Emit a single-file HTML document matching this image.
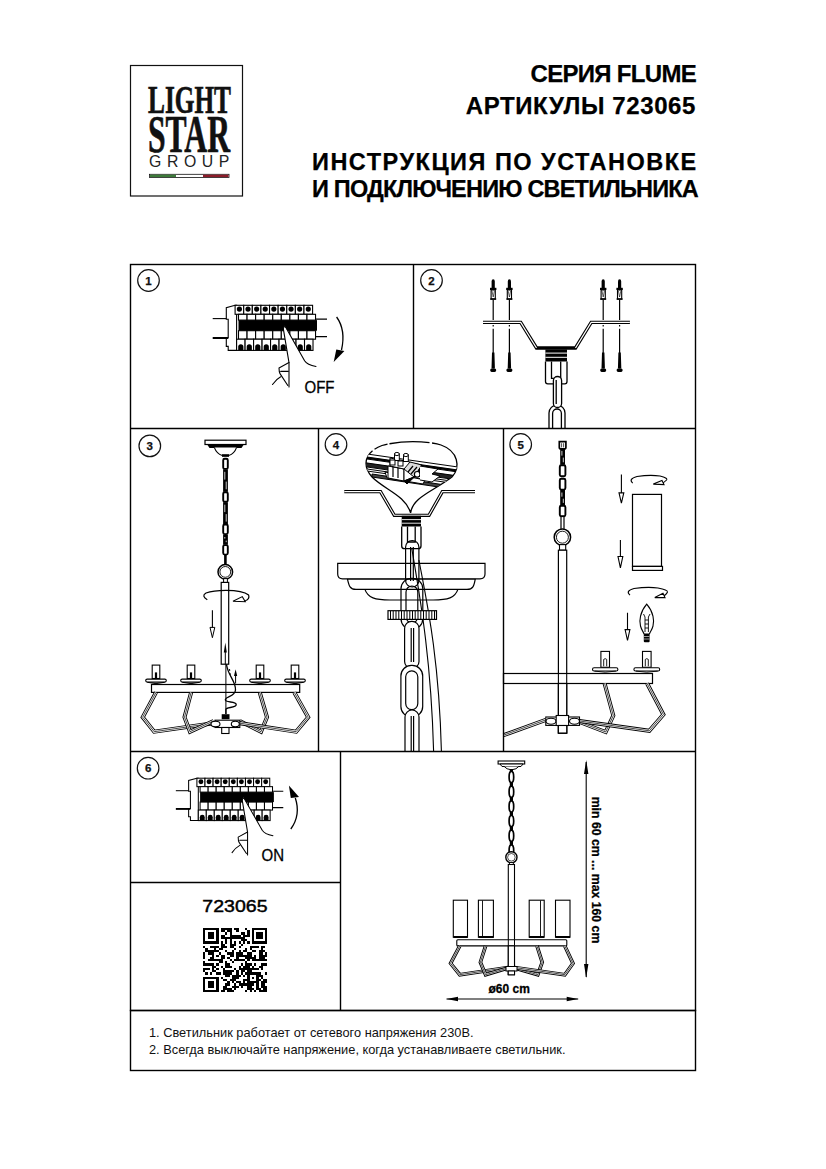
<!DOCTYPE html>
<html><head><meta charset="utf-8">
<style>
html,body{margin:0;padding:0;background:#fff;}
body{width:826px;height:1169px;position:relative;overflow:hidden;font-family:"Liberation Sans",sans-serif;}
svg{position:absolute;left:0;top:0;}
.t{position:absolute;white-space:nowrap;color:#000;-webkit-text-stroke:0.25px #000;}
</style></head><body>
<svg width="826" height="1169" viewBox="0 0 826 1169">
<!-- logo box -->
<rect x="130.5" y="65.5" width="112" height="130.5" fill="none" stroke="#111" stroke-width="1.2"/>
<defs><symbol id="brk" overflow="visible">
<g fill="#fff" stroke="#000" stroke-width="1.1">
<path d="M0,0 L-8.8,2.4 V13.9 H-6.9 V32.3 H-8.8 V41.1 H-6.9 V45.1 H1.5 V0 Z"/>
<rect x="0.00" y="0" width="8.61" height="9"/>
<rect x="8.61" y="0" width="8.61" height="9"/>
<rect x="17.22" y="0" width="8.61" height="9"/>
<rect x="25.83" y="0" width="8.61" height="9"/>
<rect x="34.44" y="0" width="8.61" height="9"/>
<rect x="43.05" y="0" width="8.61" height="9"/>
<rect x="51.66" y="0" width="8.61" height="9"/>
<rect x="60.27" y="0" width="8.61" height="9"/>
<rect x="68.88" y="0" width="8.61" height="9"/>
<rect x="3.40" y="9" width="8.56" height="5.8"/>
<rect x="11.96" y="9" width="8.56" height="5.8"/>
<rect x="20.52" y="9" width="8.56" height="5.8"/>
<rect x="29.08" y="9" width="8.56" height="5.8"/>
<rect x="37.64" y="9" width="8.56" height="5.8"/>
<rect x="46.20" y="9" width="8.56" height="5.8"/>
<rect x="54.76" y="9" width="8.56" height="5.8"/>
<rect x="63.32" y="9" width="8.56" height="5.8"/>
<rect x="71.88" y="9" width="8.56" height="5.8"/>
<rect x="3.40" y="25.4" width="8.56" height="8.5"/>
<rect x="11.96" y="25.4" width="8.56" height="8.5"/>
<rect x="20.52" y="25.4" width="8.56" height="8.5"/>
<rect x="29.08" y="25.4" width="8.56" height="8.5"/>
<rect x="37.64" y="25.4" width="8.56" height="8.5"/>
<rect x="46.20" y="25.4" width="8.56" height="8.5"/>
<rect x="54.76" y="25.4" width="8.56" height="8.5"/>
<rect x="63.32" y="25.4" width="8.56" height="8.5"/>
<rect x="71.88" y="25.4" width="8.56" height="8.5"/>
<rect x="1.50" y="33.9" width="8.49" height="11.2"/>
<rect x="9.99" y="33.9" width="8.49" height="11.2"/>
<rect x="18.48" y="33.9" width="8.49" height="11.2"/>
<rect x="26.97" y="33.9" width="8.49" height="11.2"/>
<rect x="35.46" y="33.9" width="8.49" height="11.2"/>
<rect x="43.95" y="33.9" width="8.49" height="11.2"/>
<rect x="52.44" y="33.9" width="8.49" height="11.2"/>
<rect x="60.93" y="33.9" width="8.49" height="11.2"/>
<rect x="69.42" y="33.9" width="8.49" height="11.2"/>
</g>
<g fill="#000"><circle cx="4.30" cy="3.8" r="2.6"/>
<circle cx="12.91" cy="3.8" r="2.6"/>
<circle cx="21.52" cy="3.8" r="2.6"/>
<circle cx="30.13" cy="3.8" r="2.6"/>
<circle cx="38.74" cy="3.8" r="2.6"/>
<circle cx="47.35" cy="3.8" r="2.6"/>
<circle cx="55.96" cy="3.8" r="2.6"/>
<circle cx="64.57" cy="3.8" r="2.6"/>
<circle cx="73.18" cy="3.8" r="2.6"/>
<path d="M3.10,45 V41.5 a2.6,2.6 0 0 1 5.2,0 V45 Z"/>
<path d="M11.59,45 V41.5 a2.6,2.6 0 0 1 5.2,0 V45 Z"/>
<path d="M20.08,45 V41.5 a2.6,2.6 0 0 1 5.2,0 V45 Z"/>
<path d="M28.57,45 V41.5 a2.6,2.6 0 0 1 5.2,0 V45 Z"/>
<path d="M37.06,45 V41.5 a2.6,2.6 0 0 1 5.2,0 V45 Z"/>
<path d="M45.55,45 V41.5 a2.6,2.6 0 0 1 5.2,0 V45 Z"/>
<path d="M54.04,45 V41.5 a2.6,2.6 0 0 1 5.2,0 V45 Z"/>
<path d="M62.53,45 V41.5 a2.6,2.6 0 0 1 5.2,0 V45 Z"/>
<path d="M71.02,45 V41.5 a2.6,2.6 0 0 1 5.2,0 V45 Z"/>
<rect x="3.4" y="14.8" width="78.5" height="10.6"/>
</g>
<g stroke="#000" fill="none">
<path d="M-22.4,13.3 H-8.8" stroke-width="1.1"/>
<path d="M-22.4,32.7 H-6.9" stroke-width="2"/>
<path d="M80.4,13.9 H91.9 M80.4,31.3 H91.9" stroke-width="1.2"/>
</g>
<path d="M49.2,20.5 L50.1,21.5 L69.5,55.4 L53.9,57.3 L48.2,23.4 Z" fill="#fff"/>
<g fill="none" stroke="#000" stroke-width="1.1" stroke-linecap="round" stroke-linejoin="round">
<path d="M48.2,23.4 Q49,20 50.6,22 L69.5,55.4 Q72,59.5 80.9,61.2"/>
<path d="M48.2,23.4 L53.9,57.3 V81.6"/>
<path d="M53.9,57.3 L43.9,62.7 Q44,67 44.9,68.3 L52.7,80.2"/>
<path d="M45.6,66.1 H53.2 M45.6,71.5 Q41,74 37.4,79.2"/>
</g>
</symbol>
</defs>
<!-- logo -->
<g font-family="Liberation Serif" font-weight="bold" fill="#111" stroke="#111" stroke-width="0.7">
<text id="lg1" x="148" y="113.4" font-size="41" textLength="83" lengthAdjust="spacingAndGlyphs">LIGHT</text>
<text id="lg2" x="148" y="151.5" font-size="53" textLength="82" lengthAdjust="spacingAndGlyphs">STAR</text>
</g>
<text id="lg3" x="149" y="167.3" font-family="Liberation Sans" font-size="17" fill="#222" textLength="86" lengthAdjust="spacingAndGlyphs" style="letter-spacing:6px">GROUP</text>
<rect x="149.5" y="174.3" width="79.5" height="3.2" fill="#fff" stroke="#111" stroke-width="0.8"/>
<rect x="150" y="174.7" width="26" height="2.4" fill="#3d7a3a"/>
<rect x="203" y="174.7" width="25.5" height="2.4" fill="#8b1c2a"/>
<!-- panel1 -->
<use href="#brk" x="0" y="0" transform="translate(235.1,305.3)"/>
<path d="M336.6,317 Q346,330 341.5,350" fill="none" stroke="#000" stroke-width="1.3"/>
<path d="M336.3,349.5 L344.4,351 L333.7,362 Z" fill="#000"/>
<text x="304.5" y="392.6" font-family="Liberation Sans" font-size="16.5" textLength="30" lengthAdjust="spacingAndGlyphs" fill="#000" stroke="#000" stroke-width="0.3">OFF</text>
<!-- panel6 -->
<use href="#brk" transform="translate(196.9,778.2) scale(0.94)"/>
<path d="M290.8,829 Q301,815 295.3,798" fill="none" stroke="#000" stroke-width="1.3"/>
<path d="M290.8,798 L299,797 L288.9,785.4 Z" fill="#000"/>
<text x="261.5" y="861" font-family="Liberation Sans" font-size="16.2" textLength="22.5" lengthAdjust="spacingAndGlyphs" fill="#000" stroke="#000" stroke-width="0.3">ON</text>
<!-- panel2 -->
<g>
<path d="M491.59999999999997,288 V281.5 Q491.59999999999997,279.2 493.2,279.2 Q494.8,279.2 494.8,281.5 V288 Z" fill="#000"/>
<rect x="490.0" y="287.8" width="6.4" height="2.2" fill="#000"/>
<rect x="491.09999999999997" y="290" width="4.2" height="9" fill="#fff" stroke="#000" stroke-width="1.1"/>
<path d="M492.0,291 L493.2,297 L494.4,291" fill="none" stroke="#000" stroke-width="0.6"/>
<rect x="490.2" y="298.3" width="6" height="1.5" fill="#000"/>
<path d="M493.2,299.5 V320 M493.2,325 V326.5 M493.2,328.8 V353" stroke="#000" stroke-width="1.2"/>
<path d="M492.0,352.5 L494.4,352.5 L494.9,368.5 L491.5,368.5 Z" fill="#000"/>
<ellipse cx="493.2" cy="370.2" rx="3" ry="1.9" fill="#000"/>
</g>
<g>
<path d="M507.79999999999995,288 V281.5 Q507.79999999999995,279.2 509.4,279.2 Q511.0,279.2 511.0,281.5 V288 Z" fill="#000"/>
<rect x="506.2" y="287.8" width="6.4" height="2.2" fill="#000"/>
<rect x="507.29999999999995" y="290" width="4.2" height="9" fill="#fff" stroke="#000" stroke-width="1.1"/>
<path d="M508.2,291 L509.4,297 L510.59999999999997,291" fill="none" stroke="#000" stroke-width="0.6"/>
<rect x="506.4" y="298.3" width="6" height="1.5" fill="#000"/>
<path d="M509.4,299.5 V320 M509.4,325 V326.5 M509.4,328.8 V353" stroke="#000" stroke-width="1.2"/>
<path d="M508.2,352.5 L510.6,352.5 L511.1,368.5 L507.7,368.5 Z" fill="#000"/>
<ellipse cx="509.4" cy="370.2" rx="3" ry="1.9" fill="#000"/>
</g>
<g>
<path d="M601.6,288 V281.5 Q601.6,279.2 603.2,279.2 Q604.8000000000001,279.2 604.8000000000001,281.5 V288 Z" fill="#000"/>
<rect x="600.0" y="287.8" width="6.4" height="2.2" fill="#000"/>
<rect x="601.1" y="290" width="4.2" height="9" fill="#fff" stroke="#000" stroke-width="1.1"/>
<path d="M602.0,291 L603.2,297 L604.4000000000001,291" fill="none" stroke="#000" stroke-width="0.6"/>
<rect x="600.2" y="298.3" width="6" height="1.5" fill="#000"/>
<path d="M603.2,299.5 V320 M603.2,325 V326.5 M603.2,328.8 V353" stroke="#000" stroke-width="1.2"/>
<path d="M602.0,352.5 L604.4,352.5 L604.9,368.5 L601.5,368.5 Z" fill="#000"/>
<ellipse cx="603.2" cy="370.2" rx="3" ry="1.9" fill="#000"/>
</g>
<g>
<path d="M618.0,288 V281.5 Q618.0,279.2 619.6,279.2 Q621.2,279.2 621.2,281.5 V288 Z" fill="#000"/>
<rect x="616.4" y="287.8" width="6.4" height="2.2" fill="#000"/>
<rect x="617.5" y="290" width="4.2" height="9" fill="#fff" stroke="#000" stroke-width="1.1"/>
<path d="M618.4,291 L619.6,297 L620.8000000000001,291" fill="none" stroke="#000" stroke-width="0.6"/>
<rect x="616.6" y="298.3" width="6" height="1.5" fill="#000"/>
<path d="M619.6,299.5 V320 M619.6,325 V326.5 M619.6,328.8 V353" stroke="#000" stroke-width="1.2"/>
<path d="M618.4,352.5 L620.8,352.5 L621.3,368.5 L617.9,368.5 Z" fill="#000"/>
<ellipse cx="619.6" cy="370.2" rx="3" ry="1.9" fill="#000"/>
</g>
<path d="M483,322.4 H520.7 L536.5,348 H575.5 L591.2,322.4 H629.9" fill="none" stroke="#000" stroke-width="3.4" stroke-linejoin="miter"/>
<path d="M483,322.4 H520.7 L536.5,348 M575.5,348 L591.2,322.4 H629.9" fill="none" stroke="#fff" stroke-width="1.2" stroke-linejoin="miter"/>
<g fill="none" stroke="#000" stroke-width="1.3">
<path d="M545.5,361.5 V381.5 Q545.5,383.8 547.8,383.8 H564.8 Q567,383.8 567,381.5 V361.5"/>
<path d="M551.5,361.5 V378.4 H560.7 V361.5"/>
<path d="M549,428 V413 A8,8 0 0 1 565,413 V428" fill="#fff"/>
<path d="M552.6,428 V413.4 A4.4,4.4 0 0 1 561.4,413.4 V428"/>
<rect x="553.4" y="376.5" width="8.2" height="31" rx="4.1" fill="#fff"/>
<path d="M556.2,380 V404"/>
</g>
<rect x="545.4" y="349.5" width="21.6" height="12" fill="#000"/>
<path d="M545.4,353.1 H567 M545.4,357.3 H567" stroke="#fff" stroke-width="1"/>
<!-- panel3 -->
<g>
<rect x="205" y="440.2" width="41" height="4.3" fill="#fff" stroke="#000" stroke-width="1.2"/>
<path d="M207,444.3 H244 L241.5,448 H209.5 Z" fill="#000"/>
<path d="M214.4,447.6 Q216.5,453.5 222.3,455.6 H228.7 Q234.5,453.5 236.5,447.6" fill="#fff" stroke="#000" stroke-width="1.1"/>
<rect x="222" y="454.2" width="7" height="2.6" fill="#000"/>
<rect x="223.1" y="469.3" width="4.8" height="22.5" fill="#000"/>
<path d="M224.8,471.8 V479.6 M226.2,481.6 V489.3" stroke="#fff" stroke-width="0.8"/>
<rect x="223.1" y="502.2" width="4.8" height="21.9" fill="#000"/>
<path d="M224.8,504.7 V512.1 M226.2,514.1 V521.6" stroke="#fff" stroke-width="0.8"/>
<rect x="223.1" y="534.5" width="4.8" height="10.2" fill="#000"/>
<path d="M224.8,537.0 V538.6 M226.2,540.6 V542.2" stroke="#fff" stroke-width="0.8"/>
<rect x="223.2" y="458.7" width="4.6" height="10.2" rx="1.5" fill="#fff" stroke="#000" stroke-width="1.9"/>
<rect x="223.2" y="492.2" width="4.6" height="9.6" rx="1.5" fill="#fff" stroke="#000" stroke-width="1.9"/>
<rect x="223.2" y="524.5" width="4.6" height="9.6" rx="1.5" fill="#fff" stroke="#000" stroke-width="1.9"/>
<rect x="223.2" y="545.1" width="4.6" height="9.5" rx="1.5" fill="#fff" stroke="#000" stroke-width="1.9"/>
<path d="M225.4,555 V565" stroke="#000" stroke-width="2.6"/>
<circle cx="225.3" cy="571.9" r="7.3" fill="#fff" stroke="#000" stroke-width="1.5"/>
<circle cx="225.3" cy="571.9" r="5.4" fill="#fff" stroke="#000" stroke-width="0.9"/>
<rect x="223.6" y="578.6" width="3.8" height="4" fill="#fff" stroke="#000" stroke-width="1"/>
<rect x="221.2" y="582.4" width="7.5" height="81.8" fill="#fff" stroke="#000" stroke-width="1.2"/>
<path d="M207.3,599.7 Q201,596 206,593 Q213,590.3 226,590.3 Q243,590.3 248.6,595 Q250,599 245.2,600.8" fill="none" stroke="#000" stroke-width="1.2"/>
<path d="M233,601.3 L242.3,596.6 L245.3,601.7 Z" fill="#fff" stroke="#000" stroke-width="1.1"/>
<path d="M212.4,610.3 V627.4" stroke="#000" stroke-width="1.1"/>
<path d="M210,627.4 H214.8 L212.4,637.7 Z" fill="#fff" stroke="#000" stroke-width="1"/>
<path d="M225.3,664 V650" stroke="#000" stroke-width="1"/>
<path d="M223.8,652.5 H226.8 L225.3,642.4 Z" fill="#000"/>
<path d="M235.6,683.5 V674" stroke="#000" stroke-width="1"/>
<path d="M234,676 H237.2 L235.6,669.3 Z" fill="#000"/>
<path d="M229.5,669 L230.5,677" stroke="#000" stroke-width="1" stroke-dasharray="2,2"/>
<rect x="152.2" y="665.1" width="7.6" height="13.399999999999977" fill="#fff" stroke="#000" stroke-width="1.1"/>
<rect x="154.9" y="672.4" width="2.2" height="5.599999999999977" fill="#000"/>
<rect x="145.7" y="679.1" width="20.6" height="3" rx="1.5" fill="#fff" stroke="#000" stroke-width="1.1"/>
<path d="M147.5,682.3 Q156,685.0 164.5,682.3" fill="none" stroke="#000" stroke-width="1"/><rect x="187.2" y="665.1" width="7.6" height="13.399999999999977" fill="#fff" stroke="#000" stroke-width="1.1"/>
<rect x="189.9" y="672.4" width="2.2" height="5.599999999999977" fill="#000"/>
<rect x="180.7" y="679.1" width="20.6" height="3" rx="1.5" fill="#fff" stroke="#000" stroke-width="1.1"/>
<path d="M182.5,682.3 Q191,685.0 199.5,682.3" fill="none" stroke="#000" stroke-width="1"/><rect x="256.2" y="665.1" width="7.6" height="13.399999999999977" fill="#fff" stroke="#000" stroke-width="1.1"/>
<rect x="258.9" y="672.4" width="2.2" height="5.599999999999977" fill="#000"/>
<rect x="249.7" y="679.1" width="20.6" height="3" rx="1.5" fill="#fff" stroke="#000" stroke-width="1.1"/>
<path d="M251.5,682.3 Q260,685.0 268.5,682.3" fill="none" stroke="#000" stroke-width="1"/><rect x="291.2" y="665.1" width="7.6" height="13.399999999999977" fill="#fff" stroke="#000" stroke-width="1.1"/>
<rect x="293.9" y="672.4" width="2.2" height="5.599999999999977" fill="#000"/>
<rect x="284.7" y="679.1" width="20.6" height="3" rx="1.5" fill="#fff" stroke="#000" stroke-width="1.1"/>
<path d="M286.5,682.3 Q295,685.0 303.5,682.3" fill="none" stroke="#000" stroke-width="1"/>
<rect x="151.5" y="684.5" width="148.2" height="7.9" fill="#fff" stroke="#000" stroke-width="1.2"/>
<path d="M156,692.4 L142.7,717.2 L154.2,731.7 L213.5,723.2" fill="none" stroke="#000" stroke-width="4.0" stroke-linejoin="miter"/><path d="M156,692.4 L142.7,717.2 L154.2,731.7 L213.5,723.2" fill="none" stroke="#fff" stroke-width="2.2" stroke-linejoin="miter"/><path d="M156,692.4 L142.7,717.2 L154.2,731.7 L213.5,723.2" fill="none" stroke="#000" stroke-width="0.7" stroke-linejoin="miter"/><path d="M191.1,692.6 L184.5,717.2 L190,731.7 L213.5,721" fill="none" stroke="#000" stroke-width="4.0" stroke-linejoin="miter"/><path d="M191.1,692.6 L184.5,717.2 L190,731.7 L213.5,721" fill="none" stroke="#fff" stroke-width="2.2" stroke-linejoin="miter"/><path d="M191.1,692.6 L184.5,717.2 L190,731.7 L213.5,721" fill="none" stroke="#000" stroke-width="0.7" stroke-linejoin="miter"/><path d="M259.8,692.6 L267,717.2 L261,731.7 L239.8,721" fill="none" stroke="#000" stroke-width="4.0" stroke-linejoin="miter"/><path d="M259.8,692.6 L267,717.2 L261,731.7 L239.8,721" fill="none" stroke="#fff" stroke-width="2.2" stroke-linejoin="miter"/><path d="M259.8,692.6 L267,717.2 L261,731.7 L239.8,721" fill="none" stroke="#000" stroke-width="0.7" stroke-linejoin="miter"/><path d="M294.3,692.4 L308.2,717.2 L296.1,731.7 L239.8,723.2" fill="none" stroke="#000" stroke-width="4.0" stroke-linejoin="miter"/><path d="M294.3,692.4 L308.2,717.2 L296.1,731.7 L239.8,723.2" fill="none" stroke="#fff" stroke-width="2.2" stroke-linejoin="miter"/><path d="M294.3,692.4 L308.2,717.2 L296.1,731.7 L239.8,723.2" fill="none" stroke="#000" stroke-width="0.7" stroke-linejoin="miter"/>
<path d="M225.9,664 V714" stroke="#000" stroke-width="1"/>
<path d="M226.5,664.5 C228,676 236,681 235.5,690 C235,697 226,696 225.3,699.6 C225,703 236,701 236.2,704.5 C236.5,708 226,707 225.9,709.3 V714" fill="none" stroke="#000" stroke-width="1.3"/>
<rect x="215" y="720.2" width="24.8" height="7.3" fill="#fff" stroke="#000" stroke-width="1.1"/>
<ellipse cx="215.5" cy="724" rx="4.5" ry="2.8" fill="#fff" stroke="#000" stroke-width="1.1"/>
<ellipse cx="235.3" cy="724" rx="4" ry="2.8" fill="#fff" stroke="#000" stroke-width="1.1"/>
<rect x="221.7" y="714.2" width="7.8" height="5" fill="#000"/>
<rect x="221.7" y="727.5" width="7.3" height="6" fill="#fff" stroke="#000" stroke-width="1.1"/>
</g>
<!-- panel4 -->
<defs><clipPath id="bub"><path d="M372,477 C362,466 364,452 382,445.5 C396,441 428,440.5 441,445 C458,451 461,467 452,477 C432,492 413,497 410.6,512.8 C405,495 385,490 372,477 Z"/></clipPath></defs>
<g fill="none" stroke="#000" stroke-width="1.2">
<path d="M344.3,491.6 H380.5 L394.3,515.3 H429 L442.4,491.6 H475" stroke-width="3.3" stroke-linejoin="miter"/>
<path d="M344.3,491.6 H380.5 L394.3,515.3 H429 L442.4,491.6 H475" stroke="#fff" stroke-width="1.1" stroke-linejoin="miter"/>
<path d="M372,477 C362,466 364,452 382,445.5 C396,441 428,440.5 441,445 C458,451 461,467 452,477 C432,492 413,497 410.6,512.8 C405,495 385,490 372,477 Z" fill="#fff" stroke="none"/>
<path d="M372,477 C362,466 364,452 382,445.5 C396,441 428,440.5 441,445 C458,451 461,467 452,477" stroke-width="1.3" stroke-dasharray="30,2.5,14,2,40,2.5,50"/>
<path d="M372,477 C385,490 405,495 410.6,512.8 C413,497 432,492 452,477" stroke-width="1.3"/>
</g>
<g stroke="#000" stroke-width="1" clip-path="url(#bub)">
<path d="M360,453 L465,468 L465,471 L360,456 Z" fill="#fff"/>
<path d="M360,456.5 L465,471.5 L465,473 L360,458 Z" fill="#000"/>
<path d="M360,462 L465,477 L465,481 L360,466 Z" fill="#222"/>
<path d="M360,468 L465,483 L465,485 L360,470 Z" fill="#fff"/>
<path d="M372,474 L465,488 L465,491 L372,477 Z" fill="#444"/>
<path d="M385,472 L425,480 L423,484 L387,478 Z" fill="#fff"/>
<path d="M388,466 L404,469 L404,481 L388,478 Z" fill="#fff"/>
<path d="M390,458 L410,462 L414,477 L404,481 L404,469 L390,466 Z" fill="#fff"/>
<path d="M404,469 L414,477 L422,465 L410,462 Z" fill="#ddd"/>
<path d="M404,481 L414,477 L422,465 L423,469 L407,484 Z" fill="#000"/>
<path d="M393,467 V477 M398,468 V478 M408,472 L413,466 M411,474 L417,467" stroke-width="1.2"/>
<rect x="394.5" y="454" width="4.8" height="6.5" fill="#fff"/>
<rect x="403.5" y="455" width="4.8" height="6.5" fill="#fff"/>
<ellipse cx="396.9" cy="454" rx="2.4" ry="1.6" fill="#fff"/>
<ellipse cx="405.9" cy="455" rx="2.4" ry="1.6" fill="#fff"/>
<rect x="390" y="460" width="5" height="5" fill="#fff"/>
<rect x="398" y="461" width="5" height="5" fill="#fff"/>
<circle cx="417.2" cy="474.3" r="2.8" fill="#fff" stroke-width="1.2"/>
<path d="M420,466 L438,469 L432,474 L440,476 L432,482 L420,480" fill="#fff"/>
</g>
<rect x="401.7" y="515.8" width="19.3" height="10.7" fill="#000"/>
<path d="M401.7,519.6 H421 M401.7,523.2 H421" stroke="#fff" stroke-width="0.9"/>
<g fill="none" stroke="#000" stroke-width="1.3">
<path d="M401.7,526.5 V546 Q401.7,548.7 404.5,548.7 H418.2 Q421,548.7 421,546 V526.5"/>
<path d="M407.5,526.5 V542 H415.2 V526.5"/>
</g>
<g fill="#fff" stroke="#000" stroke-width="1.2">
<path d="M364.9,589.4 C368,598 375,600 390,600 H433 C448,600 455,598 457.9,589.4 Z"/>
<path d="M347.4,578.8 C349,586 350,589.4 356,589.4 H467 C473,589.4 474,586 475.3,578.8 Z"/>
<path d="M337.7,563.3 H485 V574 Q485,578.8 480,578.8 H342.5 Q337.7,578.8 337.7,574 Z"/>
</g>
<g fill="none" stroke="#000" stroke-width="1.2">
<rect x="405.6" y="540.5" width="13.3" height="46.5" rx="6.6"/>
<path d="M410.6,547 V581 M413.3,547 V581"/>
<rect x="401" y="578.3" width="21.8" height="51" rx="10.5"/>
<rect x="406" y="586" width="11.8" height="36.8" rx="5.9"/>
</g>
<path d="M411.7,548 C419,592 431,655 433.6,751" fill="none" stroke="#000" stroke-width="1.1"/>
<path d="M418.9,560 C426,598 439,655 441.4,751" fill="none" stroke="#000" stroke-width="1.1"/>

<rect x="388" y="610.7" width="48.5" height="8.7" fill="#fff" stroke="#000" stroke-width="1.2"/>
<path d="M390.5,611 V619 M393.2,611 V619 M396.0,611 V619 M398.8,611 V619 M401.5,611 V619 M404.2,611 V619 M407.0,611 V619 M409.8,611 V619 M412.5,611 V619 M415.2,611 V619 M418.0,611 V619 M420.8,611 V619 M423.5,611 V619 M426.2,611 V619 M429.0,611 V619 M431.8,611 V619 M434.5,611 V619 " stroke="#000" stroke-width="1"/>
<g fill="none" stroke="#000" stroke-width="1.2">
<rect x="404.6" y="621.4" width="14.4" height="47" rx="7" fill="#fff"/>
<path d="M411.2,628 V662 M413.6,628 V662"/>
<rect x="400.9" y="665.4" width="21.8" height="51.5" rx="10.5" fill="#fff"/>
<rect x="405.7" y="670.8" width="12.1" height="38.8" rx="6"/>
<path d="M405,751 V717 A7,7 0 0 1 419,717 V751" fill="#fff"/>
<path d="M411.2,716 V751 M413.6,716 V751"/>
</g>
<!-- panel5 -->
<rect x="560.2" y="448.4" width="4.8" height="16.4" fill="#000"/>
<path d="M561.9,450.9 V455.6 M563.3000000000001,457.6 V462.3" stroke="#fff" stroke-width="0.8"/>
<rect x="560.2" y="490.0" width="4.8" height="15.4" fill="#000"/>
<path d="M561.9,492.5 V496.7 M563.3000000000001,498.7 V502.9" stroke="#fff" stroke-width="0.8"/>
<path d="M559.3000000000001,441.7 V447.4 Q559.3000000000001,448.9 561.1,448.9 H564.1 Q565.9,448.9 565.9,447.4 V441.7 Z" fill="#fff" stroke="#000" stroke-width="1.7"/>
<path d="M561.6,443.2 V447.4 M563.6,443.2 V447.4" stroke="#000" stroke-width="0.7"/>
<rect x="559.8000000000001" y="465.2" width="5.6" height="11.0" rx="1.5" fill="#fff" stroke="#000" stroke-width="1.9"/>
<rect x="559.8000000000001" y="478.7" width="5.6" height="10.9" rx="1.5" fill="#fff" stroke="#000" stroke-width="1.9"/>
<rect x="559.8000000000001" y="505.8" width="5.6" height="10.5" rx="1.5" fill="#fff" stroke="#000" stroke-width="1.9"/>
<rect x="561" y="516.5" width="3" height="13" fill="#fff" stroke="#000" stroke-width="1.2"/>
<circle cx="562.4" cy="537.2" r="8.2" fill="#fff" stroke="#000" stroke-width="1.5"/>
<circle cx="562.4" cy="537.2" r="6" fill="#fff" stroke="#000" stroke-width="0.9"/>
<rect x="559.5" y="544.6" width="6.2" height="5.6" fill="#fff" stroke="#000" stroke-width="1.1"/>
<rect x="558.4" y="550.2" width="8.3" height="183" fill="#fff" stroke="#000" stroke-width="1.2"/>
<rect x="632.5" y="494.4" width="29" height="72" fill="#fff" stroke="#000" stroke-width="1.2"/>
<rect x="632.5" y="566.4" width="30" height="4" fill="#fff" stroke="#000" stroke-width="1.2"/>
<g fill="none" stroke="#000" stroke-width="1.1">
<path d="M632.7,483.1 Q628,479 637,476.5 Q650,474.5 660,476 Q668,478 666.6,480 Q664,483 660,484"/>
<path d="M653.3,484.1 L662,480.5 L664,484.6 Z" fill="#fff"/>
<path d="M621.4,474.4 V492.9 M620.4,540 V556.5 M627.5,612.7 V629.6"/>
<path d="M619,492.9 H623.8 L621.4,503.1 Z M618,556.5 H622.8 L620.4,567.8 Z M625.1,629.6 H629.9 L627.5,640.5 Z" fill="#fff"/>
<path d="M630,595.1 Q625,591 634,588.5 Q648,586.5 658,588 Q668,590 667.5,592 Q666,595.5 661,597"/>
<path d="M654.8,597.6 L663,593.3 L665,597.6 Z" fill="#fff"/>
<!-- bulb -->
<path d="M646.7,604.2 C640,612 639,621 640.5,626 C641.5,630 643.5,632 644,634 H649.4 C650,632 652,630 653,626 C654.5,621 653.5,612 646.7,604.2 Z" fill="#fff"/>
<path d="M645,632 V617 L643.5,614 M648.4,632 V617 L650,614 M645,620 H648.4 M645,624 H648.4 M645,628 H648.4" stroke-width="0.9"/>
</g>
<rect x="643.8" y="634" width="5.8" height="8.3" rx="1" fill="#000"/>
<path d="M644,636.5 H649.4 M644,639 H649.4" stroke="#fff" stroke-width="0.6"/>
<rect x="600.9000000000001" y="651.4" width="8.6" height="15.899999999999977" fill="#fff" stroke="#000" stroke-width="1.1"/>
<path d="M603.7,666.3 V659.4 Q605.2,657.9 606.7,659.4 V666.3" fill="none" stroke="#000" stroke-width="0.9"/>
<rect x="592.5" y="667.8" width="25.4" height="3.2" rx="1.6" fill="#fff" stroke="#000" stroke-width="1.1"/>
<path d="M594.5,671.0999999999999 Q605.2,673.3 615.9000000000001,671.0999999999999" fill="none" stroke="#000" stroke-width="0.9"/><rect x="642.5" y="651.4" width="8.6" height="15.899999999999977" fill="#fff" stroke="#000" stroke-width="1.1"/>
<path d="M645.3,666.3 V659.4 Q646.8,657.9 648.3,659.4 V666.3" fill="none" stroke="#000" stroke-width="0.9"/>
<rect x="633.9" y="667.8" width="25.8" height="3.2" rx="1.6" fill="#fff" stroke="#000" stroke-width="1.1"/>
<path d="M635.9,671.0999999999999 Q646.8,673.3 657.6999999999999,671.0999999999999" fill="none" stroke="#000" stroke-width="0.9"/>
<rect x="503.5" y="673.5" width="149" height="10" fill="#fff" stroke="#000" stroke-width="1.2"/>
<path d="M558.4,673.5 V683.5 M566.7,673.5 V683.5" stroke="#000" stroke-width="1.1"/>
<rect x="558.4" y="683.5" width="8.3" height="49.5" fill="#fff" stroke="#000" stroke-width="1.2"/>
<path d="M604.6,683.5 L613.3,715.6 L605.7,732 L579.5,722" fill="none" stroke="#000" stroke-width="4.0" stroke-linejoin="miter"/><path d="M604.6,683.5 L613.3,715.6 L605.7,732 L579.5,722" fill="none" stroke="#fff" stroke-width="2.2" stroke-linejoin="miter"/><path d="M604.6,683.5 L613.3,715.6 L605.7,732 L579.5,722" fill="none" stroke="#000" stroke-width="0.7" stroke-linejoin="miter"/><path d="M647.1,683.5 L663.4,714.5 L649.3,730.8 L579.5,721" fill="none" stroke="#000" stroke-width="4.0" stroke-linejoin="miter"/><path d="M647.1,683.5 L663.4,714.5 L649.3,730.8 L579.5,721" fill="none" stroke="#fff" stroke-width="2.2" stroke-linejoin="miter"/><path d="M647.1,683.5 L663.4,714.5 L649.3,730.8 L579.5,721" fill="none" stroke="#000" stroke-width="0.7" stroke-linejoin="miter"/><path d="M545.8,719.9 L503.5,735.2" fill="none" stroke="#000" stroke-width="4.0" stroke-linejoin="miter"/><path d="M545.8,719.9 L503.5,735.2" fill="none" stroke="#fff" stroke-width="2.2" stroke-linejoin="miter"/><path d="M545.8,719.9 L503.5,735.2" fill="none" stroke="#000" stroke-width="0.7" stroke-linejoin="miter"/>
<rect x="545.8" y="717" width="33.7" height="8.4" fill="#fff" stroke="#000" stroke-width="1.1"/>
<ellipse cx="551" cy="721.2" rx="5" ry="3" fill="#fff" stroke="#000" stroke-width="1.1"/>
<ellipse cx="574.5" cy="721.2" rx="5" ry="3" fill="#fff" stroke="#000" stroke-width="1.1"/>
<rect x="556.2" y="715.5" width="12.4" height="10" fill="#fff" stroke="#000" stroke-width="1.1"/>
<rect x="558.4" y="725.5" width="8.3" height="7.5" fill="#fff" stroke="#000" stroke-width="1.1"/>
<!-- panel7 -->

<rect x="498.1" y="761" width="26.6" height="3" fill="#fff" stroke="#000" stroke-width="1.1"/>
<path d="M500,764 H523 L521,766.5 H502 Z" fill="#fff" stroke="#000" stroke-width="1"/>
<path d="M504.2,766.5 Q507,769.5 510,769.5 H513 Q516,769.5 518.7,766.5" fill="#fff" stroke="#000" stroke-width="1"/>
<path d="M511.4,769.5 V851" stroke="#000" stroke-width="3.2"/>
<ellipse cx="511.4" cy="777.0" rx="2.3" ry="5.6" fill="#fff" stroke="#000" stroke-width="1.7"/>
<ellipse cx="511.4" cy="791.7" rx="2.3" ry="5.6" fill="#fff" stroke="#000" stroke-width="1.7"/>
<ellipse cx="511.4" cy="806.4" rx="2.3" ry="5.6" fill="#fff" stroke="#000" stroke-width="1.7"/>
<ellipse cx="511.4" cy="821.1" rx="2.3" ry="5.6" fill="#fff" stroke="#000" stroke-width="1.7"/>
<ellipse cx="511.4" cy="835.8" rx="2.3" ry="5.6" fill="#fff" stroke="#000" stroke-width="1.7"/>
<ellipse cx="511.4" cy="850.5" rx="2.3" ry="5.6" fill="#fff" stroke="#000" stroke-width="1.7"/>
<circle cx="511.4" cy="857.3" r="5.6" fill="#fff" stroke="#000" stroke-width="1.4"/>
<circle cx="511.4" cy="857.3" r="3.8" fill="#fff" stroke="#000" stroke-width="0.7"/>
<rect x="509.5" y="862.5" width="3.8" height="2.5" fill="#fff" stroke="#000" stroke-width="0.9"/>
<rect x="508.3" y="864.5" width="6.2" height="110" fill="#fff" stroke="#000" stroke-width="1.1"/>
<g fill="#fff" stroke="#000" stroke-width="1.1">
<rect x="453.3" y="900.2" width="14.2" height="37"/>
<rect x="478.4" y="900.2" width="15" height="37"/>
<rect x="529.2" y="900.2" width="15" height="37"/>
<rect x="555.5" y="900.2" width="14.5" height="37"/>
</g>
<path d="M482.5,900.5 V937 M540.5,900.5 V937" stroke="#000" stroke-width="0.9"/>
<path d="M453.5,937 H467.5 M478.5,937 H493.5 M529,937 H544 M555.5,937 H570" stroke="#000" stroke-width="2.2"/>
<rect x="456.8" y="939.7" width="110" height="6.2" rx="1" fill="#fff" stroke="#000" stroke-width="1.1"/>
<path d="M508.3,939.7 V945.9 M514.5,939.7 V945.9" stroke="#000" stroke-width="1"/>
<rect x="508.3" y="945.9" width="6.2" height="28.8" fill="#fff" stroke="#000" stroke-width="1.1"/>
<path d="M459.8,945.9 L450.6,963.4 L459.8,974.7 L508.2,967.5" fill="none" stroke="#000" stroke-width="3.6" stroke-linejoin="miter"/><path d="M459.8,945.9 L450.6,963.4 L459.8,974.7 L508.2,967.5" fill="none" stroke="#fff" stroke-width="1.8" stroke-linejoin="miter"/><path d="M459.8,945.9 L450.6,963.4 L459.8,974.7 L508.2,967.5" fill="none" stroke="#000" stroke-width="0.7" stroke-linejoin="miter"/><path d="M485.6,945.9 L480.4,962.3 L485.6,974.7 L508.2,968" fill="none" stroke="#000" stroke-width="3.6" stroke-linejoin="miter"/><path d="M485.6,945.9 L480.4,962.3 L485.6,974.7 L508.2,968" fill="none" stroke="#fff" stroke-width="1.8" stroke-linejoin="miter"/><path d="M485.6,945.9 L480.4,962.3 L485.6,974.7 L508.2,968" fill="none" stroke="#000" stroke-width="0.7" stroke-linejoin="miter"/><path d="M537,945.9 L542.2,962.3 L537.8,974.7 L514.4,968" fill="none" stroke="#000" stroke-width="3.6" stroke-linejoin="miter"/><path d="M537,945.9 L542.2,962.3 L537.8,974.7 L514.4,968" fill="none" stroke="#fff" stroke-width="1.8" stroke-linejoin="miter"/><path d="M537,945.9 L542.2,962.3 L537.8,974.7 L514.4,968" fill="none" stroke="#000" stroke-width="0.7" stroke-linejoin="miter"/><path d="M564.8,945.9 L573,963.4 L564.8,974.7 L514.4,967.5" fill="none" stroke="#000" stroke-width="3.6" stroke-linejoin="miter"/><path d="M564.8,945.9 L573,963.4 L564.8,974.7 L514.4,967.5" fill="none" stroke="#fff" stroke-width="1.8" stroke-linejoin="miter"/><path d="M564.8,945.9 L573,963.4 L564.8,974.7 L514.4,967.5" fill="none" stroke="#000" stroke-width="0.7" stroke-linejoin="miter"/>
<rect x="506" y="966.5" width="11" height="4.5" fill="#fff" stroke="#000" stroke-width="1"/>
<rect x="508.3" y="971" width="6.2" height="3.8" fill="#fff" stroke="#000" stroke-width="1"/>
<!-- dims -->
<path d="M446.5,999 H578.2" stroke="#000" stroke-width="1.1"/>
<path d="M446.5,999 L458,996.8 V1001.2 Z M578.2,999 L566.7,996.8 V1001.2 Z" fill="#000"/>
<path d="M586.2,762 V977" stroke="#000" stroke-width="1.1"/>
<path d="M586.2,760 L584,774 H588.4 Z M586.2,978 L584,964 H588.4 Z" fill="#000"/>
<text x="488.5" y="993.2" font-family="Liberation Sans" font-weight="bold" font-size="13.4" textLength="41.3" lengthAdjust="spacingAndGlyphs" fill="#000" stroke="#000" stroke-width="0.3">ø60 cm</text>
<text transform="translate(591.8,796.7) rotate(90)" x="0" y="0" font-family="Liberation Sans" font-weight="bold" font-size="13.4" textLength="146.6" lengthAdjust="spacingAndGlyphs" fill="#000" stroke="#000" stroke-width="0.3">min 60 cm ... max 160 cm</text>
<!-- 723065 -->
<text x="202.3" y="911.8" font-family="Liberation Sans" font-size="17.4" textLength="65.2" lengthAdjust="spacingAndGlyphs" fill="#000" stroke="#000" stroke-width="0.45">723065</text>
<path d="M203.10,928.00h15.52v2.22h-15.52zM220.84,928.00h11.09v2.22h-11.09zM234.14,928.00h4.43v2.22h-4.43zM245.23,928.00h2.22v2.22h-2.22zM251.88,928.00h15.52v2.22h-15.52zM203.10,930.22h2.22v2.22h-2.22zM216.40,930.22h2.22v2.22h-2.22zM220.84,930.22h4.43v2.22h-4.43zM227.49,930.22h4.43v2.22h-4.43zM236.36,930.22h2.22v2.22h-2.22zM247.44,930.22h2.22v2.22h-2.22zM251.88,930.22h2.22v2.22h-2.22zM265.18,930.22h2.22v2.22h-2.22zM203.10,932.43h2.22v2.22h-2.22zM207.53,932.43h6.65v2.22h-6.65zM216.40,932.43h2.22v2.22h-2.22zM225.27,932.43h2.22v2.22h-2.22zM229.71,932.43h2.22v2.22h-2.22zM240.79,932.43h4.43v2.22h-4.43zM247.44,932.43h2.22v2.22h-2.22zM251.88,932.43h2.22v2.22h-2.22zM256.31,932.43h6.65v2.22h-6.65zM265.18,932.43h2.22v2.22h-2.22zM203.10,934.65h2.22v2.22h-2.22zM207.53,934.65h6.65v2.22h-6.65zM216.40,934.65h2.22v2.22h-2.22zM220.84,934.65h4.43v2.22h-4.43zM229.71,934.65h11.09v2.22h-11.09zM243.01,934.65h6.65v2.22h-6.65zM251.88,934.65h2.22v2.22h-2.22zM256.31,934.65h6.65v2.22h-6.65zM265.18,934.65h2.22v2.22h-2.22zM203.10,936.87h2.22v2.22h-2.22zM207.53,936.87h6.65v2.22h-6.65zM216.40,936.87h2.22v2.22h-2.22zM220.84,936.87h24.39v2.22h-24.39zM251.88,936.87h2.22v2.22h-2.22zM256.31,936.87h6.65v2.22h-6.65zM265.18,936.87h2.22v2.22h-2.22zM203.10,939.09h2.22v2.22h-2.22zM216.40,939.09h2.22v2.22h-2.22zM225.27,939.09h2.22v2.22h-2.22zM229.71,939.09h2.22v2.22h-2.22zM240.79,939.09h6.65v2.22h-6.65zM251.88,939.09h2.22v2.22h-2.22zM265.18,939.09h2.22v2.22h-2.22zM203.10,941.30h15.52v2.22h-15.52zM220.84,941.30h2.22v2.22h-2.22zM225.27,941.30h2.22v2.22h-2.22zM229.71,941.30h2.22v2.22h-2.22zM234.14,941.30h2.22v2.22h-2.22zM238.58,941.30h2.22v2.22h-2.22zM243.01,941.30h2.22v2.22h-2.22zM247.44,941.30h2.22v2.22h-2.22zM251.88,941.30h15.52v2.22h-15.52zM220.84,943.52h4.43v2.22h-4.43zM229.71,943.52h6.65v2.22h-6.65zM240.79,943.52h2.22v2.22h-2.22zM203.10,945.74h2.22v2.22h-2.22zM209.75,945.74h8.87v2.22h-8.87zM220.84,945.74h6.65v2.22h-6.65zM229.71,945.74h4.43v2.22h-4.43zM238.58,945.74h2.22v2.22h-2.22zM249.66,945.74h8.87v2.22h-8.87zM260.75,945.74h4.43v2.22h-4.43zM205.32,947.96h2.22v2.22h-2.22zM214.19,947.96h2.22v2.22h-2.22zM218.62,947.96h4.43v2.22h-4.43zM234.14,947.96h2.22v2.22h-2.22zM245.23,947.96h2.22v2.22h-2.22zM249.66,947.96h2.22v2.22h-2.22zM260.75,947.96h2.22v2.22h-2.22zM205.32,950.17h13.30v2.22h-13.30zM225.27,950.17h2.22v2.22h-2.22zM231.92,950.17h2.22v2.22h-2.22zM238.58,950.17h2.22v2.22h-2.22zM243.01,950.17h4.43v2.22h-4.43zM251.88,950.17h4.43v2.22h-4.43zM258.53,950.17h6.65v2.22h-6.65zM203.10,952.39h2.22v2.22h-2.22zM207.53,952.39h6.65v2.22h-6.65zM218.62,952.39h2.22v2.22h-2.22zM227.49,952.39h6.65v2.22h-6.65zM236.36,952.39h6.65v2.22h-6.65zM247.44,952.39h4.43v2.22h-4.43zM258.53,952.39h4.43v2.22h-4.43zM265.18,952.39h2.22v2.22h-2.22zM203.10,954.61h2.22v2.22h-2.22zM211.97,954.61h2.22v2.22h-2.22zM216.40,954.61h2.22v2.22h-2.22zM220.84,954.61h4.43v2.22h-4.43zM229.71,954.61h4.43v2.22h-4.43zM236.36,954.61h15.52v2.22h-15.52zM254.10,954.61h2.22v2.22h-2.22zM258.53,954.61h8.87v2.22h-8.87zM203.10,956.82h2.22v2.22h-2.22zM209.75,956.82h4.43v2.22h-4.43zM220.84,956.82h4.43v2.22h-4.43zM227.49,956.82h2.22v2.22h-2.22zM236.36,956.82h2.22v2.22h-2.22zM245.23,956.82h11.09v2.22h-11.09zM258.53,956.82h6.65v2.22h-6.65zM207.53,959.04h15.52v2.22h-15.52zM229.71,959.04h2.22v2.22h-2.22zM234.14,959.04h11.09v2.22h-11.09zM247.44,959.04h2.22v2.22h-2.22zM251.88,959.04h15.52v2.22h-15.52zM203.10,961.26h2.22v2.22h-2.22zM218.62,961.26h4.43v2.22h-4.43zM225.27,961.26h2.22v2.22h-2.22zM231.92,961.26h2.22v2.22h-2.22zM245.23,961.26h2.22v2.22h-2.22zM203.10,963.48h11.09v2.22h-11.09zM216.40,963.48h2.22v2.22h-2.22zM225.27,963.48h4.43v2.22h-4.43zM240.79,963.48h2.22v2.22h-2.22zM245.23,963.48h6.65v2.22h-6.65zM254.10,963.48h2.22v2.22h-2.22zM260.75,963.48h6.65v2.22h-6.65zM211.97,965.69h4.43v2.22h-4.43zM220.84,965.69h2.22v2.22h-2.22zM225.27,965.69h6.65v2.22h-6.65zM238.58,965.69h2.22v2.22h-2.22zM243.01,965.69h6.65v2.22h-6.65zM251.88,965.69h2.22v2.22h-2.22zM258.53,965.69h4.43v2.22h-4.43zM203.10,967.91h6.65v2.22h-6.65zM211.97,967.91h2.22v2.22h-2.22zM216.40,967.91h2.22v2.22h-2.22zM223.06,967.91h2.22v2.22h-2.22zM234.14,967.91h2.22v2.22h-2.22zM238.58,967.91h19.96v2.22h-19.96zM260.75,967.91h2.22v2.22h-2.22zM203.10,970.13h2.22v2.22h-2.22zM211.97,970.13h4.43v2.22h-4.43zM223.06,970.13h11.09v2.22h-11.09zM236.36,970.13h2.22v2.22h-2.22zM240.79,970.13h4.43v2.22h-4.43zM247.44,970.13h4.43v2.22h-4.43zM205.32,972.34h2.22v2.22h-2.22zM209.75,972.34h2.22v2.22h-2.22zM216.40,972.34h4.43v2.22h-4.43zM223.06,972.34h8.87v2.22h-8.87zM236.36,972.34h2.22v2.22h-2.22zM240.79,972.34h2.22v2.22h-2.22zM245.23,972.34h15.52v2.22h-15.52zM265.18,972.34h2.22v2.22h-2.22zM225.27,974.56h4.43v2.22h-4.43zM231.92,974.56h8.87v2.22h-8.87zM243.01,974.56h2.22v2.22h-2.22zM247.44,974.56h2.22v2.22h-2.22zM256.31,974.56h6.65v2.22h-6.65zM203.10,976.78h15.52v2.22h-15.52zM220.84,976.78h2.22v2.22h-2.22zM231.92,976.78h6.65v2.22h-6.65zM247.44,976.78h2.22v2.22h-2.22zM251.88,976.78h2.22v2.22h-2.22zM256.31,976.78h2.22v2.22h-2.22zM260.75,976.78h2.22v2.22h-2.22zM203.10,979.00h2.22v2.22h-2.22zM216.40,979.00h2.22v2.22h-2.22zM223.06,979.00h4.43v2.22h-4.43zM229.71,979.00h6.65v2.22h-6.65zM243.01,979.00h6.65v2.22h-6.65zM256.31,979.00h4.43v2.22h-4.43zM262.97,979.00h4.43v2.22h-4.43zM203.10,981.21h2.22v2.22h-2.22zM207.53,981.21h6.65v2.22h-6.65zM216.40,981.21h2.22v2.22h-2.22zM227.49,981.21h2.22v2.22h-2.22zM231.92,981.21h2.22v2.22h-2.22zM236.36,981.21h4.43v2.22h-4.43zM243.01,981.21h2.22v2.22h-2.22zM247.44,981.21h11.09v2.22h-11.09zM260.75,981.21h6.65v2.22h-6.65zM203.10,983.43h2.22v2.22h-2.22zM207.53,983.43h6.65v2.22h-6.65zM216.40,983.43h2.22v2.22h-2.22zM225.27,983.43h4.43v2.22h-4.43zM234.14,983.43h2.22v2.22h-2.22zM238.58,983.43h15.52v2.22h-15.52zM256.31,983.43h2.22v2.22h-2.22zM260.75,983.43h4.43v2.22h-4.43zM203.10,985.65h2.22v2.22h-2.22zM207.53,985.65h6.65v2.22h-6.65zM216.40,985.65h2.22v2.22h-2.22zM223.06,985.65h4.43v2.22h-4.43zM231.92,985.65h6.65v2.22h-6.65zM240.79,985.65h2.22v2.22h-2.22zM247.44,985.65h4.43v2.22h-4.43zM256.31,985.65h2.22v2.22h-2.22zM260.75,985.65h6.65v2.22h-6.65zM203.10,987.87h2.22v2.22h-2.22zM216.40,987.87h2.22v2.22h-2.22zM223.06,987.87h8.87v2.22h-8.87zM234.14,987.87h2.22v2.22h-2.22zM247.44,987.87h6.65v2.22h-6.65zM256.31,987.87h4.43v2.22h-4.43zM262.97,987.87h4.43v2.22h-4.43zM203.10,990.08h15.52v2.22h-15.52zM220.84,990.08h4.43v2.22h-4.43zM227.49,990.08h6.65v2.22h-6.65zM245.23,990.08h2.22v2.22h-2.22zM249.66,990.08h2.22v2.22h-2.22zM254.10,990.08h2.22v2.22h-2.22zM258.53,990.08h8.87v2.22h-8.87z" fill="#000" shape-rendering="crispEdges"/>
<!-- grid -->
<g stroke="#000" stroke-width="1.4" fill="none">
<rect x="130.5" y="264.5" width="565" height="746"/>
<rect x="130.5" y="1010.5" width="565" height="60"/>
<line x1="130.5" y1="428.5" x2="695.5" y2="428.5"/>
<line x1="130.5" y1="751.5" x2="695.5" y2="751.5"/>
<line x1="130.5" y1="882.5" x2="340.5" y2="882.5"/>
<line x1="413.5" y1="264.5" x2="413.5" y2="428.5"/>
<line x1="318.5" y1="428.5" x2="318.5" y2="751.5"/>
<line x1="503.5" y1="428.5" x2="503.5" y2="751.5"/>
<line x1="340.5" y1="751.5" x2="340.5" y2="1010.5"/>
</g>
<!-- step circles -->
<g stroke="#111" stroke-width="1.2" fill="none">
<circle cx="148.5" cy="280.5" r="10.8"/>
<circle cx="431.5" cy="280.5" r="10.8"/>
<circle cx="149.8" cy="445.9" r="10.8"/>
<circle cx="336" cy="444.5" r="10.8"/>
<circle cx="520.7" cy="444.5" r="10.8"/>
<circle cx="148.1" cy="768.2" r="10.8"/>
</g>
<g font-family="Liberation Sans" font-weight="bold" font-size="11.5" fill="#111" stroke="#111" stroke-width="0.25" text-anchor="middle">
<text x="148.5" y="284.5">1</text>
<text x="431.5" y="284.5">2</text>
<text x="149.8" y="449.9">3</text>
<text x="336" y="448.5">4</text>
<text x="520.7" y="448.5">5</text>
<text x="148.1" y="772.2">6</text>
</g>
</svg>

<div class="t" id="h1" style="right:130px;top:60px;font-weight:bold;font-size:24px;letter-spacing:-0.7px;">СЕРИЯ FLUME</div>
<div class="t" id="h2" style="right:130px;top:92px;font-weight:bold;font-size:24px;letter-spacing:0.6px;">АРТИКУЛЫ 723065</div>
<div class="t" id="h3" style="left:312px;top:148.7px;font-weight:bold;font-size:23.5px;letter-spacing:1.5px;">ИНСТРУКЦИЯ ПО УСТАНОВКЕ</div>
<div class="t" id="h4" style="left:312px;top:176px;font-weight:bold;font-size:23.5px;letter-spacing:-0.8px;">И ПОДКЛЮЧЕНИЮ СВЕТИЛЬНИКА</div>

<div class="t" id="n1" style="left:149px;top:1024.5px;font-size:12.8px;-webkit-text-stroke:0;color:#111;">1. Светильник работает от сетевого напряжения 230В.</div>
<div class="t" id="n2" style="left:149px;top:1041.5px;font-size:12.8px;-webkit-text-stroke:0;color:#111;">2. Всегда выключайте напряжение, когда устанавливаете светильник.</div>
</body></html>
